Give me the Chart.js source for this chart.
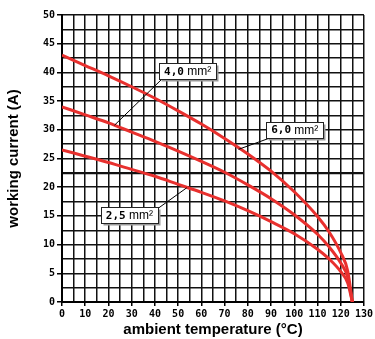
<!DOCTYPE html>
<html>
<head>
<meta charset="utf-8">
<script src="https://cdn.jsdelivr.net/npm/chart.js@4.4.0/dist/chart.umd.min.js"></script>
<style>
  html, body { margin: 0; padding: 0; background: #fff; }
  #wrap { width: 375px; height: 339px; }
</style>
</head>
<body>
<div id="wrap"><canvas id="derating"></canvas></div>
<script>
// values
const temps     = [0, 10, 20, 30, 40, 50, 60, 70, 80, 90, 100, 110, 115, 120, 123, 125];
const cur6_0    = [43, 41.2, 39.4, 37.5, 35.5, 33.3, 31.0, 28.5, 25.8, 22.8, 19.2, 14.9, 12.2, 8.6, 5.4, 0];
const cur4_0    = [34, 32.6, 31.2, 29.6, 28.0, 26.3, 24.5, 22.6, 20.4, 18.0, 15.2, 11.8, 9.6, 6.8, 4.3, 0];
const cur2_5    = [26.5, 25.4, 24.3, 23.1, 21.9, 20.5, 19.1, 17.6, 15.9, 14.0, 11.9, 9.2, 7.5, 5.3, 3.3, 0];
const sections  = ['6,0', '4,0', '2,5'];

const RED = '#e8302e';
const MONO = '"DejaVu Sans Mono", monospace';
const SANS = '"Liberation Sans", Arial, sans-serif';

const toPts = (ys) => temps.map((t, i) => ({ x: t, y: ys[i] }));

// call-out boxes: box centre and end of leader line, in data units
const callouts = [
    { text: sections[1], box: [54.1, 40.2], corner: 'bl', tip: [22.6, 30.8] },
    { text: sections[0], box: [100.2, 30.0], corner: 'bl', tip: [76, 26.6] },
    { text: sections[2], box: [29.0, 15.1], corner: 'tr', tip: [53.7, 19.9] }
];

const calloutPlugin = {
    id: 'callouts',
    afterDatasetsDraw(chart) {
        const { ctx, scales: { x, y } } = chart;
        const w = 57, h = 16;
        ctx.save();
        callouts.forEach(c => {
            const cx = x.getPixelForValue(c.box[0]);
            const cy = y.getPixelForValue(c.box[1]);
            const l = Math.round(cx - w / 2) + 0.5, t = Math.round(cy - h / 2) + 0.5;
            const sx = c.corner === 'bl' ? l + 2 : l + w - 2;
            const sy = c.corner === 'bl' ? t + h : t + 2;
            // leader
            ctx.strokeStyle = '#000';
            ctx.lineWidth = 1;
            ctx.beginPath();
            ctx.moveTo(sx, sy);
            ctx.lineTo(x.getPixelForValue(c.tip[0]), y.getPixelForValue(c.tip[1]));
            ctx.stroke();
            // shadow + box
            ctx.fillStyle = '#999';
            ctx.fillRect(l + 2, t + 2, w, h);
            ctx.fillStyle = '#fff';
            ctx.fillRect(l, t, w, h);
            ctx.strokeStyle = '#222';
            ctx.strokeRect(l, t, w, h);
            // text
            ctx.fillStyle = '#000';
            ctx.textBaseline = 'middle';
            ctx.textAlign = 'left';
            ctx.font = 'bold 11px ' + MONO;
            const numW = ctx.measureText(c.text).width;
            ctx.font = '12px ' + SANS;
            const unit = ' mm\u00B2';
            const total = numW + ctx.measureText(unit).width;
            let tx = cx - total / 2;
            ctx.font = 'bold 11px ' + MONO;
            ctx.fillText(c.text, tx, cy + 0.5);
            ctx.font = '12px ' + SANS;
            ctx.fillText(unit, tx + numW, cy + 0.5);
        });
        ctx.restore();
    }
};

const lineDs = (label, ys) => ({
    label: label,
    data: toPts(ys),
    borderColor: RED,
    borderWidth: 3,
    pointRadius: 0,
    fill: false,
    cubicInterpolationMode: 'monotone'
});

new Chart(document.getElementById('derating').getContext('2d'), {
    type: 'line',
    data: {
        datasets: [
            lineDs(sections[0] + ' mm²', cur6_0),
            lineDs(sections[1] + ' mm²', cur4_0),
            lineDs(sections[2] + ' mm²', cur2_5)
        ]
    },
    options: {
        responsive: true,
        maintainAspectRatio: false,
        animation: false,
        layout: { padding: { left: 0, right: 8, top: 15, bottom: 0 } },
        plugins: {
            legend: { display: false },
            tooltip: { enabled: false }
        },
        scales: {
            x: {
                type: 'linear',
                min: 0,
                max: 130,
                afterFit: (s) => { s.height = 37; },
                ticks: {
                    stepSize: 5,
                    autoSkip: false,
                    maxRotation: 0,
                    padding: 2,
                    color: '#000',
                    font: { family: MONO, size: 10, weight: 'bold' },
                    callback: (v) => (v % 10 === 0 ? String(v) : '')
                },
                grid: {
                    color: '#111',
                    lineWidth: 1.5,
                    tickLength: 4,
                    tickColor: (c) => (c.tick && c.tick.value % 10 === 0 ? '#000' : 'rgba(0,0,0,0)')
                },
                border: { color: '#000', width: 2 },
                title: {
                    display: true,
                    text: 'ambient temperature (°C)',
                    color: '#000',
                    font: { family: SANS, size: 15, weight: 'bold' },
                    padding: { top: 0, bottom: 0 }
                }
            },
            y: {
                min: 0,
                max: 50,
                afterFit: (s) => { s.width = 62; },
                ticks: {
                    stepSize: 2.5,
                    autoSkip: false,
                    padding: 2,
                    color: '#000',
                    font: { family: MONO, size: 10, weight: 'bold' },
                    callback: (v) => (v % 5 === 0 ? String(v) : '')
                },
                grid: {
                    color: '#111',
                    lineWidth: (c) => (c.tick && c.tick.value === 22.5 ? 2.2 : 1.5),
                    tickLength: 5,
                    tickColor: (c) => (c.tick && c.tick.value % 5 === 0 ? '#000' : 'rgba(0,0,0,0)')
                },
                border: { color: '#000', width: 2 },
                title: {
                    display: true,
                    text: 'working current (A)',
                    color: '#000',
                    font: { family: SANS, size: 15, weight: 'bold' },
                    padding: { top: 5, bottom: 0 }
                }
            }
        }
    },
    plugins: [calloutPlugin]
});
</script>
</body>
</html>
